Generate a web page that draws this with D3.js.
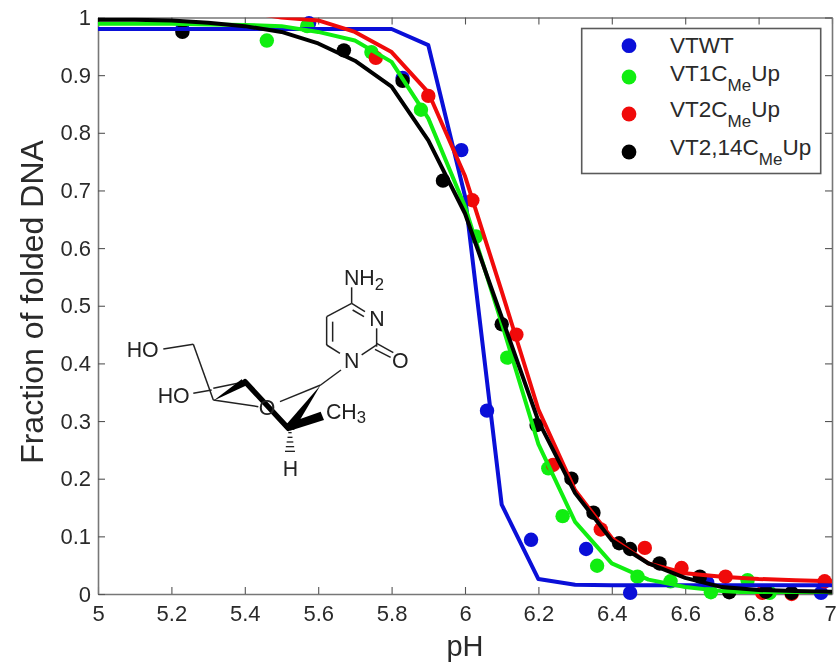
<!DOCTYPE html>
<html>
<head>
<meta charset="utf-8">
<script src="https://d3js.org/d3.v7.min.js"></script>
<style>
  html, body { margin: 0; padding: 0; background: #fff; }
  svg { display: block; font-family: "Liberation Sans", Arial, sans-serif; filter: blur(0.5px); }
</style>
</head>
<body>
<script>
// Axis ticks
var pHTicks = [5, 5.2, 5.4, 5.6, 5.8, 6, 6.2, 6.4, 6.6, 6.8, 7];
var fractionTicks = [0, 0.1, 0.2, 0.3, 0.4, 0.5, 0.6, 0.7, 0.8, 0.9, 1];

// Fitted curves, all sampled at the same pH values
var curvePH = [5, 5.1, 5.2, 5.3, 5.4, 5.5, 5.6, 5.7, 5.8, 5.9, 6, 6.1, 6.2, 6.3, 6.4, 6.5, 6.6, 6.7, 6.8, 6.9, 7];
var blueCurve = [0.98, 0.98, 0.98, 0.98, 0.98, 0.98, 0.98, 0.98, 0.98, 0.952, 0.69, 0.155, 0.026, 0.016, 0.015, 0.015, 0.015, 0.015, 0.015, 0.015, 0.015];
var greenCurve = [0.989, 0.989, 0.989, 0.988, 0.987, 0.985, 0.975, 0.96, 0.923, 0.825, 0.672, 0.47, 0.26, 0.125, 0.053, 0.025, 0.012, 0.005, 0.002, 0.002, 0.002];
var redCurve = [1.02, 1.02, 1.02, 1.02, 1.01, 1, 0.995, 0.975, 0.94, 0.87, 0.725, 0.525, 0.32, 0.18, 0.097, 0.053, 0.036, 0.03, 0.026, 0.024, 0.022];
var blackCurve = [0.996, 0.996, 0.995, 0.991, 0.985, 0.975, 0.955, 0.925, 0.88, 0.787, 0.66, 0.48, 0.3, 0.175, 0.093, 0.053, 0.028, 0.012, 0.007, 0.005, 0.004];

// Measured points
var bluePH = [5.23, 5.575, 5.83, 5.99, 6.06, 6.18, 6.33, 6.45, 6.66, 6.97];
var blueFraction = [0.98, 0.99, 0.895, 0.77, 0.318, 0.094, 0.078, 0.002, 0.02, 0.002];
var greenPH = [5.46, 5.57, 5.745, 5.88, 6.03, 6.115, 6.227, 6.266, 6.36, 6.47, 6.56, 6.67, 6.77, 6.83];
var greenFraction = [0.96, 0.985, 0.94, 0.84, 0.62, 0.41, 0.218, 0.135, 0.049, 0.03, 0.022, 0.003, 0.024, 0.002];
var redPH = [5.757, 5.9, 6.02, 6.14, 6.24, 6.37, 6.49, 6.59, 6.71, 6.81, 6.89, 6.98];
var redFraction = [0.93, 0.864, 0.683, 0.45, 0.224, 0.112, 0.08, 0.045, 0.03, 0.002, 0, 0.022];
var blackPH = [5.23, 5.67, 5.83, 5.94, 6.1, 6.195, 6.29, 6.35, 6.42, 6.45, 6.53, 6.64, 6.72, 6.82, 6.89];
var blackFraction = [0.975, 0.943, 0.89, 0.717, 0.468, 0.293, 0.2, 0.141, 0.088, 0.078, 0.053, 0.03, 0.003, 0.004, 0.002];

var colorBlue = "#0a0fd8";
var colorGreen = "#10ee10";
var colorRed = "#f00a0a";
var colorBlack = "#000000";

var svgWidth = 837;
var svgHeight = 664;
var margin = { top: 17.5, right: 5, bottom: 70, left: 98 };
var chartWidth = svgWidth - margin.left - margin.right;
var chartHeight = svgHeight - margin.top - margin.bottom;
var frameColor = "#777";
var labelColor = "#2a2a2a";

var svg = d3.select("body")
  .append("svg")
  .attr("width", svgWidth)
  .attr("height", svgHeight);

svg.append("defs").append("clipPath")
  .attr("id", "plotClip")
  .append("rect")
  .attr("width", chartWidth)
  .attr("height", chartHeight);

var chartGroup = svg.append("g")
  .attr("transform", `translate(${margin.left}, ${margin.top})`);

var xScale = d3.scaleLinear().domain([5, 7]).range([0, chartWidth]);
var yScale = d3.scaleLinear().domain([0, 1]).range([chartHeight, 0]);
var tickFormat = d3.format("~g");

// Frame: labelled axes on the bottom and left, ticks only on the top and right
function styleAxis(group) {
  group.selectAll("path").attr("stroke", frameColor).attr("stroke-width", 1.6);
  group.selectAll("line").attr("stroke", "#555").attr("stroke-width", 1.1);
  group.selectAll("text").attr("fill", labelColor).style("font-size", "22px").style("font-family", "inherit");
}

var bottomAxis = chartGroup.append("g")
  .attr("transform", `translate(0, ${chartHeight})`)
  .call(d3.axisBottom(xScale).tickValues(pHTicks).tickFormat(tickFormat).tickSizeInner(-7).tickSizeOuter(0).tickPadding(11))
  .call(styleAxis);
// keep the last label inside the window
bottomAxis.selectAll(".tick text").filter(d => d === 7).attr("dx", -2);

chartGroup.append("g")
  .call(d3.axisLeft(yScale).tickValues(fractionTicks).tickFormat(tickFormat).tickSizeInner(-7).tickSizeOuter(0).tickPadding(7))
  .call(styleAxis);
chartGroup.append("g")
  .call(d3.axisTop(xScale).tickValues(pHTicks).tickFormat("").tickSizeInner(-7).tickSizeOuter(0))
  .call(styleAxis);
chartGroup.append("g")
  .attr("transform", `translate(${chartWidth}, 0)`)
  .call(d3.axisRight(yScale).tickValues(fractionTicks).tickFormat("").tickSizeInner(-7).tickSizeOuter(0))
  .call(styleAxis);

// Points sit under the curves and may spill over the frame
function drawPoints(xs, ys, color) {
  chartGroup.append("g")
    .selectAll("circle")
    .data(xs.map((x, i) => [x, ys[i]]))
    .join("circle")
    .attr("cx", d => xScale(d[0]))
    .attr("cy", d => yScale(d[1]))
    .attr("r", 7.2)
    .attr("fill", color);
}
drawPoints(bluePH, blueFraction, colorBlue);
drawPoints(greenPH, greenFraction, colorGreen);
drawPoints(redPH, redFraction, colorRed);
drawPoints(blackPH, blackFraction, colorBlack);

var drawLine = d3.line()
  .x((d, i) => xScale(curvePH[i]))
  .y(d => yScale(d));

function plotCurve(values, color) {
  chartGroup.append("path")
    .attr("d", drawLine(values))
    .attr("clip-path", "url(#plotClip)")
    .attr("stroke", color)
    .attr("stroke-width", 4)
    .attr("stroke-linejoin", "round")
    .style("fill", "none");
}
plotCurve(blueCurve, colorBlue);
plotCurve(redCurve, colorRed);
plotCurve(greenCurve, colorGreen);
plotCurve(blackCurve, colorBlack);

// Axis titles
svg.append("text")
  .attr("x", 465)
  .attr("y", 656)
  .attr("text-anchor", "middle")
  .attr("fill", labelColor)
  .style("font-size", "29px")
  .text("pH");
svg.append("text")
  .attr("transform", "translate(43, 302) rotate(-90)")
  .attr("text-anchor", "middle")
  .attr("fill", labelColor)
  .style("font-size", "32px")
  .text("Fraction of folded DNA");

// Legend
var legendNames = ["VTWT", "VT1C", "VT2C", "VT2,14C"];
var legendColors = [colorBlue, colorGreen, colorRed, colorBlack];
var legendMarkerY = [45.7, 77, 114, 152];
var legendTextY = [53, 81, 117, 155];

var legend = svg.append("g");
legend.append("rect")
  .attr("x", 581.7)
  .attr("y", 28.5)
  .attr("width", 239)
  .attr("height", 145)
  .attr("fill", "#fff")
  .attr("stroke", "#5a5a5a")
  .attr("stroke-width", 1.6);

legendNames.forEach(function(name, i) {
  legend.append("circle")
    .attr("cx", 629)
    .attr("cy", legendMarkerY[i])
    .attr("r", 7.4)
    .attr("fill", legendColors[i]);
  var label = legend.append("text")
    .attr("x", 670)
    .attr("y", legendTextY[i])
    .attr("fill", labelColor)
    .style("font-size", "22.5px")
    .text(name);
  if (i > 0) {
    label.append("tspan").attr("dy", 10).style("font-size", "17px").text("Me");
    label.append("tspan").attr("dy", -10).text("Up");
  }
});

// Nucleoside structure, drawn at 3x and scaled down
var mol = svg.append("g").attr("transform", "translate(110, 250) scale(0.3333)");

var thinBonds = [
  [160, 297, 250, 283], [250, 283, 310, 450], [250, 430, 305, 420], [310, 415, 405, 395],
  [310, 450, 445, 470], [510, 455, 632, 405], [632, 405, 693, 360],
  [690, 310, 650, 285], [650, 285, 650, 200], [668, 275, 668, 215],
  [650, 200, 725, 160], [725, 160, 765, 185], [728, 180, 762, 200],
  [800, 235, 800, 290], [755, 315, 800, 285], [800, 280, 850, 308], [795, 298, 842, 322],
  [725, 160, 725, 112]
];
mol.selectAll("line.bond")
  .data(thinBonds)
  .join("line")
  .attr("class", "bond")
  .attr("x1", d => d[0]).attr("y1", d => d[1])
  .attr("x2", d => d[2]).attr("y2", d => d[3])
  .attr("stroke", "#222")
  .attr("stroke-width", 4.5);

mol.append("line")
  .attr("x1", 405).attr("y1", 395).attr("x2", 535).attr("y2", 535)
  .attr("stroke", "#000").attr("stroke-width", 16).attr("stroke-linecap", "round");

var wedges = ["M310,452L395,388L412,405Z", "M525,528L632,405L552,540Z", "M528,522L632,485L642,510L540,542Z"];
mol.selectAll("path.wedge")
  .data(wedges)
  .join("path")
  .attr("class", "wedge")
  .attr("d", d => d)
  .attr("fill", "#000");

// Hashed bond down to the H
[548, 562, 576, 590, 604].forEach(function(y, i) {
  mol.append("line")
    .attr("x1", 538 - 3 - i * 2.5).attr("x2", 542 + 3 + i * 2.5)
    .attr("y1", y).attr("y2", y)
    .attr("stroke", "#222").attr("stroke-width", 4);
});

var atomLabels = [
  { text: "HO", x: 50, y: 320 },
  { text: "HO", x: 143, y: 460 },
  { text: "O", x: 446, y: 494 },
  { text: "H", x: 518, y: 678 },
  { text: "N", x: 778, y: 227 },
  { text: "N", x: 702, y: 355 },
  { text: "O", x: 846, y: 354 }
];
mol.selectAll("text.atom")
  .data(atomLabels)
  .join("text")
  .attr("class", "atom")
  .attr("x", d => d.x)
  .attr("y", d => d.y)
  .attr("fill", "#222")
  .style("font-size", "64px")
  .text(d => d.text);

var nh2 = mol.append("text").attr("x", 702).attr("y", 105).attr("fill", "#222").style("font-size", "64px").text("NH");
nh2.append("tspan").attr("dy", 16).style("font-size", "50px").text("2");
var ch3 = mol.append("text").attr("x", 648).attr("y", 508).attr("fill", "#222").style("font-size", "64px").text("CH");
ch3.append("tspan").attr("dy", 12).style("font-size", "50px").text("3");
</script>
</body>
</html>
